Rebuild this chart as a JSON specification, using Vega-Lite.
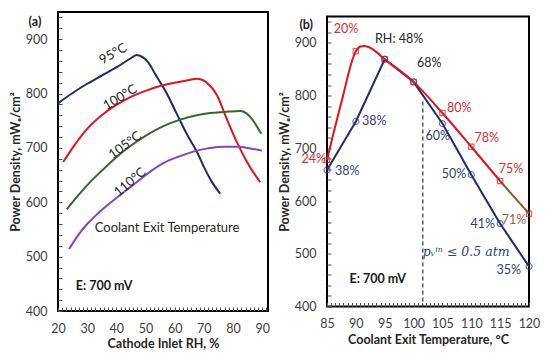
{
  "$schema": "https://vega.github.io/schema/vega-lite/v6.json",
  "padding": {"left": 8, "top": 10, "right": 4, "bottom": 4},
  "center": true,
  "spacing": 6,
  "resolve": {"scale": {"color": "independent"}},
  "config": {
    "font": "Lato",
    "view": {"stroke": "#000", "strokeWidth": 2},
    "axis": {"domain": false, "grid": false, "ticks": true, "tickSize": 4, "offset": -4, "tickColor": "#555", "tickWidth": 1, "tickOpacity": 1, "labelFont": "Lato", "labelFontSize": 12.5, "labelColor": "#404040", "titleFont": "Lato", "titleFontSize": 12.5, "titleFontWeight": "bold", "titleColor": "#262626", "tickCount": 200, "labelPadding": 11, "titlePadding": 3, "labelFlush": false, "labelOverlap": false}
  },
  "datasets": {
    "curvesA": [
      {"rh": 20, "pd": 782, "t": "95°C"}, {"rh": 25, "pd": 801, "t": "95°C"}, {"rh": 30, "pd": 818, "t": "95°C"}, {"rh": 35, "pd": 833, "t": "95°C"}, {"rh": 40, "pd": 848, "t": "95°C"}, {"rh": 44.7, "pd": 864, "t": "95°C"}, {"rh": 47, "pd": 871, "t": "95°C"}, {"rh": 49.3, "pd": 866, "t": "95°C"}, {"rh": 51, "pd": 857, "t": "95°C"}, {"rh": 53.3, "pd": 836, "t": "95°C"}, {"rh": 57.3, "pd": 800, "t": "95°C"}, {"rh": 60.7, "pd": 763, "t": "95°C"}, {"rh": 64.2, "pd": 725, "t": "95°C"}, {"rh": 67.6, "pd": 693, "t": "95°C"}, {"rh": 70.4, "pd": 661, "t": "95°C"}, {"rh": 72.7, "pd": 638, "t": "95°C"}, {"rh": 75.6, "pd": 616, "t": "95°C"},
      {"rh": 21.8, "pd": 674, "t": "100°C"}, {"rh": 25, "pd": 700, "t": "100°C"}, {"rh": 30, "pd": 735, "t": "100°C"}, {"rh": 35, "pd": 760, "t": "100°C"}, {"rh": 40, "pd": 779, "t": "100°C"}, {"rh": 45, "pd": 794, "t": "100°C"}, {"rh": 50, "pd": 805, "t": "100°C"}, {"rh": 55, "pd": 814, "t": "100°C"}, {"rh": 60, "pd": 820, "t": "100°C"}, {"rh": 65, "pd": 825, "t": "100°C"}, {"rh": 67.6, "pd": 827, "t": "100°C"}, {"rh": 69.5, "pd": 825, "t": "100°C"}, {"rh": 71, "pd": 820, "t": "100°C"}, {"rh": 74.5, "pd": 797, "t": "100°C"}, {"rh": 77.9, "pd": 753, "t": "100°C"}, {"rh": 81.3, "pd": 711, "t": "100°C"}, {"rh": 84.8, "pd": 674, "t": "100°C"}, {"rh": 89.3, "pd": 637, "t": "100°C"},
      {"rh": 23, "pd": 587, "t": "105°C"}, {"rh": 27, "pd": 613, "t": "105°C"}, {"rh": 31, "pd": 637, "t": "105°C"}, {"rh": 35, "pd": 658, "t": "105°C"}, {"rh": 40, "pd": 683, "t": "105°C"}, {"rh": 44.7, "pd": 703, "t": "105°C"}, {"rh": 50, "pd": 722, "t": "105°C"}, {"rh": 56.1, "pd": 740, "t": "105°C"}, {"rh": 61.9, "pd": 752, "t": "105°C"}, {"rh": 67.6, "pd": 760, "t": "105°C"}, {"rh": 72.2, "pd": 764, "t": "105°C"}, {"rh": 77, "pd": 766, "t": "105°C"}, {"rh": 82.5, "pd": 768, "t": "105°C"}, {"rh": 84.5, "pd": 764, "t": "105°C"}, {"rh": 85.9, "pd": 757, "t": "105°C"}, {"rh": 89.7, "pd": 726, "t": "105°C"},
      {"rh": 23.8, "pd": 514, "t": "110°C"}, {"rh": 27, "pd": 540, "t": "110°C"}, {"rh": 30, "pd": 560, "t": "110°C"}, {"rh": 34.4, "pd": 583, "t": "110°C"}, {"rh": 40, "pd": 608, "t": "110°C"}, {"rh": 45.8, "pd": 632, "t": "110°C"}, {"rh": 50, "pd": 650, "t": "110°C"}, {"rh": 56.1, "pd": 672, "t": "110°C"}, {"rh": 61.9, "pd": 685, "t": "110°C"}, {"rh": 67.6, "pd": 695, "t": "110°C"}, {"rh": 72.2, "pd": 700, "t": "110°C"}, {"rh": 77, "pd": 702, "t": "110°C"}, {"rh": 82, "pd": 702, "t": "110°C"}, {"rh": 86, "pd": 699, "t": "110°C"}, {"rh": 89.9, "pd": 695, "t": "110°C"}
    ],
    "redCurve": [
      {"t": 85, "pd": 678}, {"t": 87.4, "pd": 783}, {"t": 90, "pd": 884}, {"t": 90.8, "pd": 893}, {"t": 91.5, "pd": 894}, {"t": 92.6, "pd": 890}, {"t": 95, "pd": 869}, {"t": 100, "pd": 826}, {"t": 105, "pd": 767}, {"t": 110, "pd": 703}, {"t": 115, "pd": 638}
    ],
    "brownSeg": [{"t": 115, "pd": 638}, {"t": 120, "pd": 576}],
    "redPts": [
      {"t": 85, "pd": 678}, {"t": 90, "pd": 884}, {"t": 95, "pd": 869}, {"t": 100, "pd": 826}, {"t": 105, "pd": 767}, {"t": 110, "pd": 703}, {"t": 115, "pd": 638}, {"t": 120, "pd": 576}
    ],
    "bluePts": [
      {"t": 85, "pd": 659}, {"t": 90, "pd": 751}, {"t": 95, "pd": 869}, {"t": 100, "pd": 826}, {"t": 105, "pd": 747}, {"t": 110, "pd": 650}, {"t": 115, "pd": 557}, {"t": 120, "pd": 476}
    ],
    "labelsB": [
      {"t": 88.3, "pd": 926, "text": "20%", "g": "square series"},
      {"t": 82.7, "pd": 679, "text": "24%", "g": "square series"},
      {"t": 107.9, "pd": 776, "text": "80%", "g": "square series"},
      {"t": 112.7, "pd": 719, "text": "78%", "g": "square series"},
      {"t": 116.9, "pd": 660, "text": "75%", "g": "square series"},
      {"t": 117.4, "pd": 565, "text": "71%", "g": "last segment"},
      {"t": 97.5, "pd": 907, "text": "RH: 48%", "g": "shared"},
      {"t": 102.7, "pd": 861, "text": "68%", "g": "shared"},
      {"t": 93.2, "pd": 752, "text": "38%", "g": "circle series"},
      {"t": 88.5, "pd": 657, "text": "38%", "g": "circle series"},
      {"t": 104.2, "pd": 724, "text": "60%", "g": "circle series"},
      {"t": 107, "pd": 652, "text": "50%", "g": "circle series"},
      {"t": 112, "pd": 556, "text": "41%", "g": "circle series"},
      {"t": 116.5, "pd": 470, "text": "35%", "g": "circle series"}
    ]
  },
  "hconcat": [
    {
      "width": 210,
      "height": 299,
      "encoding": {
        "x": {"type": "quantitative", "scale": {"domain": [20, 92], "nice": false, "zero": false}},
        "y": {"type": "quantitative", "scale": {"domain": [400, 950], "nice": false, "zero": false}}
      },
      "layer": [
        {
          "data": {"name": "curvesA"},
          "mark": {"type": "line", "interpolate": "monotone", "strokeWidth": 2},
          "encoding": {
            "x": {"field": "rh", "type": "quantitative", "title": "Cathode Inlet RH, %", "axis": {"labelOverlap": false, "tickCount": 200, "values": [20, 21.429, 22.857, 24.286, 25.714, 27.143, 28.571, 30, 31.429, 32.857, 34.286, 35.714, 37.143, 38.571, 40, 41.429, 42.857, 44.286, 45.714, 47.143, 48.571, 50, 51.429, 52.857, 54.286, 55.714, 57.143, 58.571, 60, 61.429, 62.857, 64.286, 65.714, 67.143, 68.571, 70, 71.429, 72.857, 74.286, 75.714, 77.143, 78.571, 80, 81.429, 82.857, 84.286, 85.714, 87.143, 88.571, 90, 91.429], "labelExpr": "abs(datum.value - 10 * round(datum.value / 10)) < 0.01 ? '' + round(datum.value) : ''"}},
            "y": {"field": "pd", "type": "quantitative", "title": "Power Density, mWₑ/cm²", "axis": {"labelOverlap": false, "tickCount": 200, "values": [400, 420, 440, 460, 480, 500, 520, 540, 560, 580, 600, 620, 640, 660, 680, 700, 720, 740, 760, 780, 800, 820, 840, 860, 880, 900, 920, 940], "labelExpr": "abs(datum.value - 100 * round(datum.value / 100)) < 0.01 ? '' + round(datum.value) : ''", "labelPadding": 11}},
            "color": {"field": "t", "type": "nominal", "legend": null, "scale": {"domain": ["95°C", "100°C", "105°C", "110°C"], "range": ["#1c2c6c", "#e2141b", "#2e6b23", "#8443c4"]}}
          }
        },
        {
          "data": {"values": [{"rh": 38.9, "pd": 873, "text": "95°C"}]},
          "mark": {"type": "text", "angle": 331, "fontSize": 13, "color": "#262626"},
          "encoding": {"x": {"field": "rh", "type": "quantitative"}, "y": {"field": "pd", "type": "quantitative"}, "text": {"field": "text"}}
        },
        {
          "data": {"values": [{"rh": 41.3, "pd": 793, "text": "100°C"}]},
          "mark": {"type": "text", "angle": 329, "fontSize": 13, "color": "#262626"},
          "encoding": {"x": {"field": "rh", "type": "quantitative"}, "y": {"field": "pd", "type": "quantitative"}, "text": {"field": "text"}}
        },
        {
          "data": {"values": [{"rh": 43, "pd": 705, "text": "105°C"}]},
          "mark": {"type": "text", "angle": 324, "fontSize": 13, "color": "#262626"},
          "encoding": {"x": {"field": "rh", "type": "quantitative"}, "y": {"field": "pd", "type": "quantitative"}, "text": {"field": "text"}}
        },
        {
          "data": {"values": [{"rh": 44.7, "pd": 637, "text": "110°C"}]},
          "mark": {"type": "text", "angle": 320, "fontSize": 13, "color": "#262626"},
          "encoding": {"x": {"field": "rh", "type": "quantitative"}, "y": {"field": "pd", "type": "quantitative"}, "text": {"field": "text"}}
        },
        {
          "data": {"values": [{"rh": 57.4, "pd": 553, "text": "Coolant Exit Temperature"}]},
          "mark": {"type": "text", "fontSize": 13, "color": "#262626"},
          "encoding": {"x": {"field": "rh", "type": "quantitative"}, "y": {"field": "pd", "type": "quantitative"}, "text": {"field": "text"}}
        },
        {
          "data": {"values": [{"rh": 35.8, "pd": 446, "text": "E: 700 mV"}, {"rh": 12.1, "pd": 931, "text": "(a)"}]},
          "mark": {"type": "text", "fontSize": 12.5, "fontWeight": "bold", "color": "#1a1a1a"},
          "encoding": {"x": {"field": "rh", "type": "quantitative"}, "y": {"field": "pd", "type": "quantitative"}, "text": {"field": "text"}}
        }
      ]
    },
    {
      "width": 202,
      "height": 290,
      "encoding": {
        "x": {"type": "quantitative", "scale": {"domain": [85, 120], "nice": false, "zero": false}},
        "y": {"type": "quantitative", "scale": {"domain": [400, 950], "nice": false, "zero": false}}
      },
      "layer": [
        {
          "data": {"values": [{"t": 101.6, "top": 789, "bottom": 400}]},
          "mark": {"type": "rule", "strokeDash": [4, 3], "color": "#333", "strokeWidth": 1.2},
          "encoding": {
            "x": {"field": "t", "type": "quantitative", "title": "Coolant Exit Temperature, °C", "axis": {"labelOverlap": false, "tickCount": 200, "values": [85, 85.714, 86.429, 87.143, 87.857, 88.571, 89.286, 90, 90.714, 91.429, 92.143, 92.857, 93.571, 94.286, 95, 95.714, 96.429, 97.143, 97.857, 98.571, 99.286, 100, 100.714, 101.429, 102.143, 102.857, 103.571, 104.286, 105, 105.714, 106.429, 107.143, 107.857, 108.571, 109.286, 110, 110.714, 111.429, 112.143, 112.857, 113.571, 114.286, 115, 115.714, 116.429, 117.143, 117.857, 118.571, 119.286, 120], "labelExpr": "abs(datum.value - 5 * round(datum.value / 5)) < 0.01 ? '' + round(datum.value) : ''"}},
            "y": {"field": "top", "type": "quantitative", "title": "Power Density, mWₑ/cm²", "axis": {"labelOverlap": false, "tickCount": 200, "values": [400, 420, 440, 460, 480, 500, 520, 540, 560, 580, 600, 620, 640, 660, 680, 700, 720, 740, 760, 780, 800, 820, 840, 860, 880, 900, 920, 940], "labelExpr": "abs(datum.value - 100 * round(datum.value / 100)) < 0.01 ? '' + round(datum.value) : ''", "labelPadding": 11}},
            "y2": {"field": "bottom"}
          }
        },
        {
          "data": {"name": "bluePts"},
          "mark": {"type": "line", "color": "#1c2c6c", "strokeWidth": 2},
          "encoding": {"x": {"field": "t", "type": "quantitative"}, "y": {"field": "pd", "type": "quantitative"}}
        },
        {
          "data": {"name": "redCurve"},
          "mark": {"type": "line", "interpolate": "monotone", "color": "#e2141b", "strokeWidth": 2},
          "encoding": {"x": {"field": "t", "type": "quantitative"}, "y": {"field": "pd", "type": "quantitative"}}
        },
        {
          "data": {"name": "brownSeg"},
          "mark": {"type": "line", "color": "#8b5a2b", "strokeWidth": 2},
          "encoding": {"x": {"field": "t", "type": "quantitative"}, "y": {"field": "pd", "type": "quantitative"}}
        },
        {
          "data": {"name": "redPts"},
          "mark": {"type": "point", "shape": "square", "filled": false, "size": 28, "color": "#d62020", "strokeWidth": 1.2},
          "encoding": {"x": {"field": "t", "type": "quantitative"}, "y": {"field": "pd", "type": "quantitative"}}
        },
        {
          "data": {"name": "bluePts"},
          "mark": {"type": "point", "shape": "circle", "filled": false, "size": 36, "color": "#2e3f7a", "strokeWidth": 1.2},
          "encoding": {"x": {"field": "t", "type": "quantitative"}, "y": {"field": "pd", "type": "quantitative"}}
        },
        {
          "data": {"name": "labelsB"},
          "mark": {"type": "text", "fontSize": 12.5},
          "encoding": {
            "x": {"field": "t", "type": "quantitative"},
            "y": {"field": "pd", "type": "quantitative"},
            "text": {"field": "text"},
            "color": {"field": "g", "type": "nominal", "legend": null, "scale": {"domain": ["square series", "circle series", "shared", "last segment"], "range": ["#d42e2e", "#2e3f7a", "#262626", "#a0603a"]}}
          }
        },
        {
          "data": {"values": [{"t": 109.1, "pd": 503, "text": "pᵥⁱⁿ ≤ 0.5 atm"}]},
          "mark": {"type": "text", "font": "DejaVu Serif", "fontStyle": "italic", "fontSize": 12.5, "color": "#2e3f7a"},
          "encoding": {"x": {"field": "t", "type": "quantitative"}, "y": {"field": "pd", "type": "quantitative"}, "text": {"field": "text"}}
        },
        {
          "data": {"values": [{"t": 93.8, "pd": 453, "text": "E: 700 mV"}, {"t": 81.4, "pd": 933, "text": "(b)"}]},
          "mark": {"type": "text", "fontSize": 12.5, "fontWeight": "bold", "color": "#1a1a1a"},
          "encoding": {"x": {"field": "t", "type": "quantitative"}, "y": {"field": "pd", "type": "quantitative"}, "text": {"field": "text"}}
        }
      ]
    }
  ]
}
